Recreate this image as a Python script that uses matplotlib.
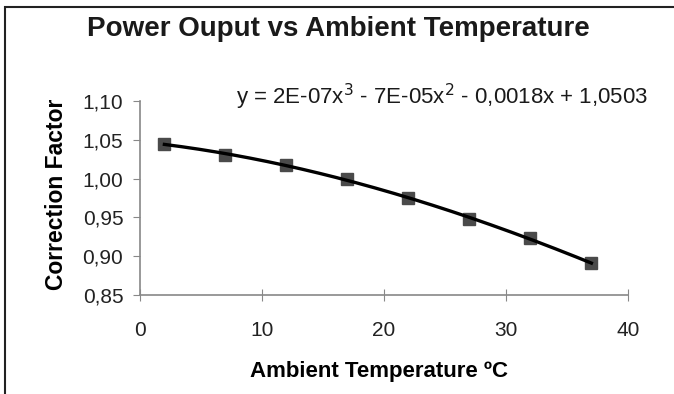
import matplotlib
matplotlib.use('Agg')
import matplotlib.pyplot as plt
import numpy as np
from matplotlib.patches import Rectangle

plt.rcParams['font.family'] = ['Liberation Sans', 'DejaVu Sans']

# data
temp = [2, 7, 12, 17, 22, 27, 32, 37]
factor = [1.045, 1.030, 1.017, 1.000, 0.975, 0.948, 0.923, 0.891]
yticks = [0.85, 0.90, 0.95, 1.00, 1.05, 1.10]
xticks = [0, 10, 20, 30, 40]
equation = 'y = 2E-07x$^3$ - 7E-05x$^2$ - 0,0018x + 1,0503'

fig = plt.figure(figsize=(6.74, 3.94), dpi=100)
ax = fig.add_axes([140/674, 1 - 295/394, (628 - 140)/674, (295 - 101)/394])

# cubic trendline like excel
coef = np.polyfit(temp, factor, 3)
xs = np.linspace(temp[0], temp[-1], 200)
ax.plot(xs, np.polyval(coef, xs), color='black', lw=2.4, zorder=3)
ax.plot(temp, factor, 's', color='#4a4a4a', ms=8.5, zorder=2)

ax.set_xlim(0, 40)
ax.set_ylim(0.85, 1.10)
ax.set_xticks(xticks)
ax.set_yticks(yticks)
ax.set_yticklabels([f'{v:.2f}'.replace('.', ',') for v in yticks])
for s in ['top', 'right']:
    ax.spines[s].set_visible(False)
for s in ['left', 'bottom']:
    ax.spines[s].set_color('#888888')
    ax.spines[s].set_linewidth(1.2)
ax.tick_params(axis='y', length=5, color='#888888', labelsize=15, pad=7, labelcolor='#222222')
ax.tick_params(axis='x', direction='inout', length=8, color='#888888', labelsize=15, pad=15,
               labelcolor='#222222')

ax.set_xlabel('Ambient Temperature ºC', fontsize=16, fontweight='bold')
ax.xaxis.set_label_coords((379 - 140)/488, (295 - 372)/194)
ax.xaxis.label.set_va('center')
ax.set_ylabel('Correction Factor', fontsize=16.5, fontweight='bold')
ax.yaxis.set_label_coords((57 - 140)/488, (295 - 194)/194)
ax.yaxis.label.set_va('center')

fig.text(338/674, 1 - 29/394, 'Power Ouput vs Ambient Temperature', ha='center', va='center',
         fontsize=20, fontweight='bold', color='#1a1a1a')
fig.text(236/674, 1 - 97/394, equation, ha='left', va='center', fontsize=16, color='#1a1a1a')

fig.patches.append(Rectangle((5/674, -0.1), 1.2, 1 - 7/394 + 0.1, transform=fig.transFigure,
                             fill=False, edgecolor='#222222', lw=1.5))

fig.savefig('out.png', dpi=100)
